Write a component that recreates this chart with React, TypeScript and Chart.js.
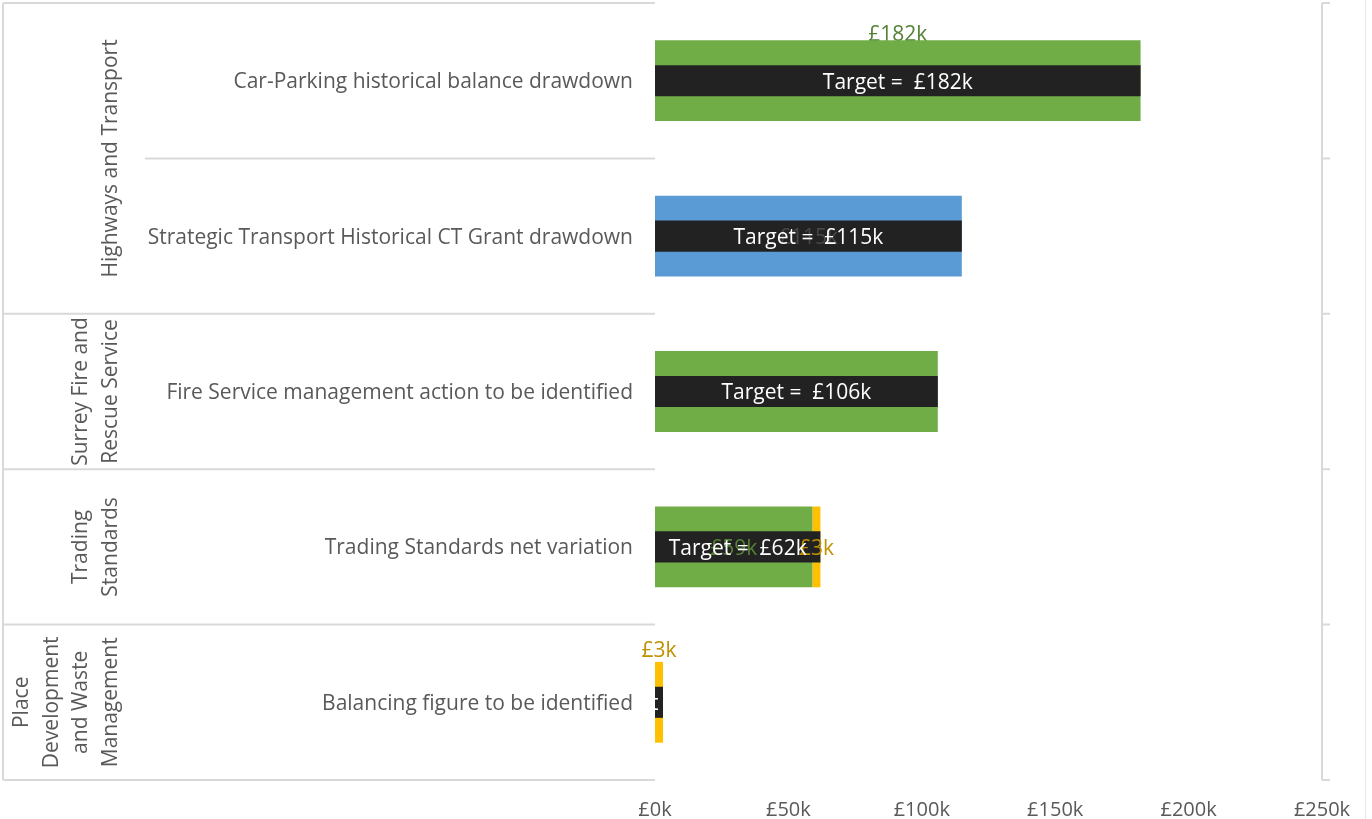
import React, { useEffect, useRef } from "react";
import { Chart, registerables } from "chart.js";

Chart.register(...registerables);

const categories = [
  "Car-Parking historical balance drawdown",
  "Strategic Transport Historical CT Grant drawdown",
  "Fire Service management action to be identified",
  "Trading Standards net variation",
  "Balancing figure to be identified",
];
const groupNames = [
  ["Highways and Transport"],
  ["Surrey Fire and", "Rescue Service"],
  ["Trading", "Standards"],
  ["Place", "Development", "and Waste", "Management"],
];
const groupSizes = [2, 1, 1, 1];
const greenValues = [182, 0, 106, 59, 0];
const blueValues = [0, 115, 0, 0, 0];
const yellowValues = [0, 0, 0, 3, 3];
const targetValues = [182, 115, 106, 62, 3];
const xMax = 250;
const xStep = 50;

const FONT = "'Open Sans', 'DejaVu Sans', sans-serif";
const GREY_TEXT = "#595959";
const LINE = "#D9D9D9";
const TEXT_DY = 2;

// dataset index: 0 target, 1 green, 2 blue, 3 yellow
type Rule = { ds: number; i: number; mode: "above" | "center"; dy?: number; color: string };
const labelRules: Rule[] = [
  { ds: 1, i: 0, mode: "above", dy: -7, color: "#548235" },
  { ds: 2, i: 1, mode: "center", color: "#474747" },
  { ds: 1, i: 3, mode: "center", color: "#548235" },
  { ds: 3, i: 3, mode: "center", color: "#BF9000" },
  { ds: 3, i: 4, mode: "above", dy: -13, color: "#BF9000" },
];

const fmt = (v: number) => `£${v}k`;

function rowBounds(chart: any) {
  const { chartArea: ca, scales } = chart;
  const y = scales.y;
  const n = categories.length;
  const centers = categories.map((_, i) => y.getPixelForValue(i));
  const b = [ca.top];
  for (let i = 0; i < n - 1; i++) b.push((centers[i] + centers[i + 1]) / 2);
  b.push(ca.bottom);
  return b;
}

function drawSeriesLabel(chart: any, r: Rule) {
  const ctx = chart.ctx;
  const el: any = chart.getDatasetMeta(r.ds).data[r.i];
  if (!el) return;
  const cx = (el.x + el.base) / 2;
  const cy = (r.mode === "above" ? el.y - el.height / 2 + (r.dy || 0) : el.y) + TEXT_DY;
  const ds: any = chart.data.datasets[r.ds];
  ctx.save();
  ctx.font = `21px ${FONT}`;
  ctx.fillStyle = r.color;
  ctx.textAlign = "center";
  ctx.textBaseline = "middle";
  ctx.fillText(fmt(ds.data[r.i]), cx, cy);
  ctx.restore();
}

const decorPlugin = {
  id: "decor",
  beforeDatasetsDraw(chart: any) {
    const { ctx, chartArea: ca } = chart;
    const bounds = rowBounds(chart);
    const n = categories.length;
    const groupBounds = [0];
    let acc = 0;
    groupSizes.forEach((s) => {
      acc += s;
      groupBounds.push(acc);
    });
    const leftX = 3;
    ctx.save();
    ctx.strokeStyle = LINE;
    ctx.lineWidth = 2;
    ctx.beginPath();
    ctx.moveTo(leftX, ca.top);
    ctx.lineTo(leftX, ca.bottom);
    for (let i = 0; i <= n; i++) {
      const yy = bounds[i];
      const isGroup = groupBounds.includes(i);
      ctx.moveTo(isGroup ? leftX : 145, yy);
      ctx.lineTo(ca.left, yy);
    }
    ctx.moveTo(ca.right, ca.top);
    ctx.lineTo(ca.right, ca.bottom);
    bounds.forEach((b) => {
      ctx.moveTo(ca.right, b);
      ctx.lineTo(ca.right + 8, b);
    });
    ctx.stroke();
    ctx.lineWidth = 1;
    ctx.strokeStyle = "#E6E6E6";
    ctx.beginPath();
    ctx.moveTo(chart.width - 6.5, 0);
    ctx.lineTo(chart.width - 6.5, chart.height);
    ctx.stroke();

    ctx.fillStyle = GREY_TEXT;
    ctx.font = `21px ${FONT}`;
    ctx.textAlign = "center";
    ctx.textBaseline = "middle";
    groupNames.forEach((lines, g) => {
      const yTop = bounds[groupBounds[g]];
      const yBot = bounds[groupBounds[g + 1]];
      const cy = (yTop + yBot) / 2;
      lines.forEach((line, li) => {
        const cx = 111 - (lines.length - 1 - li) * 29.5;
        ctx.save();
        ctx.translate(cx, cy);
        ctx.rotate(-Math.PI / 2);
        ctx.fillText(line, 0, 0);
        ctx.restore();
      });
    });
    ctx.restore();

    labelRules.filter((r) => r.mode === "above" && r.ds === 1).forEach((r) => drawSeriesLabel(chart, r));
  },
  afterDatasetsDraw(chart: any) {
    const ctx = chart.ctx;
    labelRules.filter((r) => !(r.mode === "above" && r.ds === 1)).forEach((r) => drawSeriesLabel(chart, r));
    const meta = chart.getDatasetMeta(0);
    meta.data.forEach((el: any, i: number) => {
      const left = Math.min(el.x, el.base);
      const w = Math.abs(el.x - el.base);
      const top = el.y - el.height / 2;
      ctx.save();
      ctx.beginPath();
      ctx.rect(left, top, w, el.height);
      ctx.clip();
      ctx.font = `21px ${FONT}`;
      ctx.fillStyle = "#FFFFFF";
      ctx.textAlign = "center";
      ctx.textBaseline = "middle";
      ctx.fillText(`Target =  ${fmt(targetValues[i])}`, left + w / 2, el.y + TEXT_DY);
      ctx.restore();
    });
  },
};

export default function App() {
  const ref = useRef<HTMLCanvasElement | null>(null);
  useEffect(() => {
    if (!ref.current) return;
    const seriesOpts = {
      stack: "s",
      grouped: false,
      categoryPercentage: 1,
      barPercentage: 0.52,
      borderWidth: 0,
      order: 1,
    };
    const chart = new Chart(ref.current, {
      type: "bar",
      data: {
        labels: categories,
        datasets: [
          {
            label: "Target",
            data: targetValues,
            backgroundColor: "#222222",
            stack: "t",
            grouped: false,
            categoryPercentage: 1,
            barPercentage: 0.2,
            borderWidth: 0,
            order: 0,
          } as any,
          { label: "Green", data: greenValues, backgroundColor: "#70AD47", ...seriesOpts } as any,
          { label: "Blue", data: blueValues, backgroundColor: "#5B9BD5", ...seriesOpts } as any,
          { label: "Yellow", data: yellowValues, backgroundColor: "#FFC000", ...seriesOpts } as any,
        ],
      },
      options: {
        indexAxis: "y",
        responsive: false,
        animation: false,
        layout: { padding: { top: 3, right: 50, left: 0, bottom: 0 } },
        plugins: {
          legend: { display: false },
          tooltip: { enabled: false },
        },
        scales: {
          x: {
            stacked: true,
            min: 0,
            max: xMax,
            grid: { display: false },
            border: { display: false },
            ticks: {
              stepSize: xStep,
              color: GREY_TEXT,
              font: { family: FONT, size: 20 },
              padding: 10,
              callback: (v: any) => fmt(Number(v)),
            },
            afterFit: (s: any) => {
              s.height = 39;
            },
          },
          y: {
            stacked: true,
            grid: { display: false },
            border: { display: false },
            ticks: {
              color: GREY_TEXT,
              font: { family: FONT, size: 21 },
              padding: 14,
              labelOffset: 1.5,
            },
            afterFit: (s: any) => {
              s.width = 655;
              s.paddingTop = 0;
              s.paddingBottom = 0;
            },
          },
        },
      } as any,
      plugins: [decorPlugin],
    });
    return () => chart.destroy();
  }, []);
  return (
    <div style={{ position: "absolute", left: 0, top: 0, width: 1372, height: 819 }}>
      <canvas ref={ref} width={1372} height={819} style={{ display: "block" }} />
    </div>
  );
}
